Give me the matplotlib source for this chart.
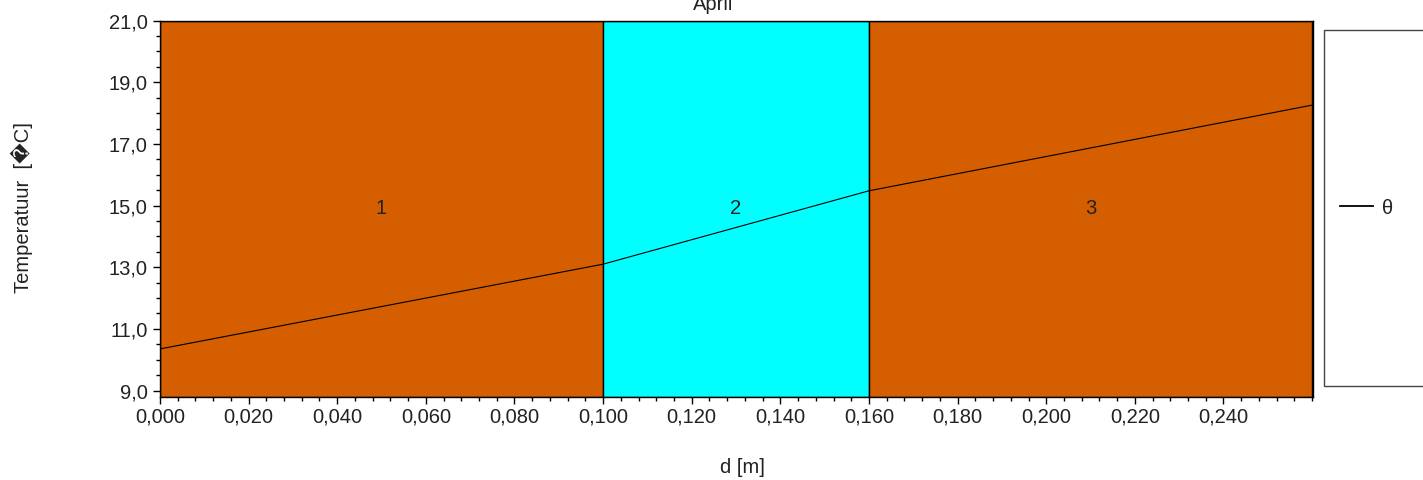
import matplotlib.pyplot as plt
from matplotlib.ticker import MultipleLocator, FuncFormatter
from matplotlib.patches import Rectangle

plt.rcParams['font.family'] = ['Liberation Sans', 'DejaVu Sans']

# layers: name, start, end [m], colour
layer_names = ["1", "2", "3"]
layer_start = [0.000, 0.100, 0.160]
layer_end = [0.100, 0.160, 0.260]
layer_colors = ["#D45E00", "#00FFFF", "#D45E00"]

# temperature profile theta [C] at layer boundaries
d = [0.000, 0.100, 0.160, 0.260]
theta = [10.35, 13.1, 15.48, 18.26]

x_ticks = [0.00, 0.02, 0.04, 0.06, 0.08, 0.10, 0.12, 0.14, 0.16, 0.18, 0.20, 0.22, 0.24]
y_ticks = [9, 11, 13, 15, 17, 19, 21]

txt = "#222222"
fs = 14.5

fig = plt.figure(figsize=(14.23, 4.8), dpi=100)
ax = fig.add_axes([0.1124, 0.1735, 0.8103, 0.7835])

for name, s, e, c in zip(layer_names, layer_start, layer_end, layer_colors):
    ax.axvspan(s, e, facecolor=c, edgecolor="black", linewidth=1, zorder=0)
    ax.text((s + e) / 2, 14.92, name, ha="center", va="center", fontsize=fs, color=txt)

line, = ax.plot(d, theta, color="black", linewidth=0.8, label="θ")

ax.set_xlim(0, 0.2602)
ax.set_ylim(8.8, 21.0)
ax.set_xticks(x_ticks)
ax.xaxis.set_minor_locator(MultipleLocator(0.004))
ax.set_yticks(y_ticks)
ax.yaxis.set_minor_locator(MultipleLocator(0.5))
ax.xaxis.set_major_formatter(FuncFormatter(lambda v, p: f"{v:.3f}".replace(".", ",")))
ax.yaxis.set_major_formatter(FuncFormatter(lambda v, p: f"{v:.1f}".replace(".", ",")))
ax.tick_params(which="major", length=5, width=1, labelsize=fs, labelcolor=txt)
ax.tick_params(axis="y", which="major", pad=4)
ax.tick_params(axis="x", which="major", pad=3)
ax.tick_params(which="minor", length=3, width=1)
for sp in ax.spines.values():
    sp.set_linewidth(1)

fig.text(0.5215, 0.027, "d [m]", ha="center", va="center", fontsize=fs, color=txt)
fig.text(0.0155, 0.567, "Temperatuur  [\ufffdC]", ha="center", va="center",
         rotation=90, fontsize=fs, color=txt)
fig.text(0.5015, 1 - 9.5 / 480, "April", ha="center", va="baseline", fontsize=fs, color=txt)

# legend box (clipped at right edge)
fig.patches.append(Rectangle((1324 / 1423, 1 - 386 / 480), 0.2, (386 - 30) / 480,
                             transform=fig.transFigure, facecolor="white",
                             edgecolor="#444444", linewidth=1))
leg = fig.legend(handles=[line], loc="center left", bbox_to_anchor=(1322 / 1423, 1 - 208 / 480),
                 frameon=False, fontsize=fs, handlelength=1.65, handletextpad=0.45,
                 labelcolor=txt)
for h in leg.legend_handles:
    h.set_linewidth(1.3)

fig.savefig("out.png", dpi=100)
